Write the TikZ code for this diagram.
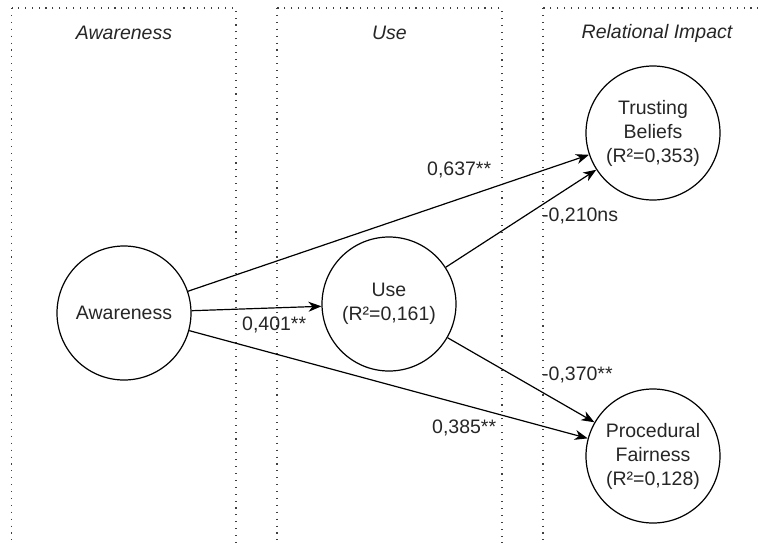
\documentclass[tikz,border=0pt]{standalone}
\usepackage{fontspec}
\setmainfont{Liberation Sans}
\usetikzlibrary{arrows.meta}

\begin{document}
\begin{tikzpicture}[x=1pt,y=-1pt,
    lane/.style={draw=black!75,line width=1.1pt,dash pattern=on 1.1pt off 5.8pt},
    lanetitle/.style={font=\fontsize{19.5}{24}\selectfont\itshape,text=black!85},
    construct/.style={draw,circle,line width=1.2pt,minimum size=134pt,inner sep=0pt,
        align=center,font=\fontsize{19.5}{24}\selectfont,text=black!85},
    coef/.style={inner sep=0pt,font=\fontsize{19.5}{24}\selectfont,text=black!85},
    link/.style={-{Stealth[length=13pt,width=10pt,inset=4pt]},line width=1.2pt}]
            \clip (0,0) rectangle (758,542);

            \draw[lane] (11.5,8) rectangle (236,560);
            \draw[lane] (277,8) rectangle (502,560);
            \draw[lane] (543,8) rectangle (768,560);

            \node[lanetitle] (tawareness) at (124,33) {Awareness};
            \node[lanetitle] (tuse) at (389.5,33) {Use};
            \node[lanetitle] (timpact) at (657,33) {Relational Impact};

            \node[construct] (aware) at (124,313) {Awareness};
            \node[construct] (use) at (389,304) {Use\\(R²=0,161)};
            \node[construct] (trust) at (653,133) {Trusting\\Beliefs\\(R²=0,353)};
            \node[construct] (fair) at (653,456) {Procedural\\Fairness\\(R²=0,128)};

            \draw[link] (aware) -- (trust);
            \draw[link] (aware) -- (use);
            \draw[link] (aware) -- (fair);
            \draw[link] (use) -- (trust);
            \draw[link] (use) -- (fair);

            \node[coef,anchor=west] (c637) at (427,170) {0,637**};
            \node[coef,anchor=west] (c210) at (542,216) {-0,210ns};
            \node[coef,anchor=west] (c401) at (242,325) {0,401**};
            \node[coef,anchor=west] (c370) at (542,375) {-0,370**};
            \node[coef,anchor=west] (c385) at (432,428) {0,385**};
        \end{tikzpicture}
\end{document}
